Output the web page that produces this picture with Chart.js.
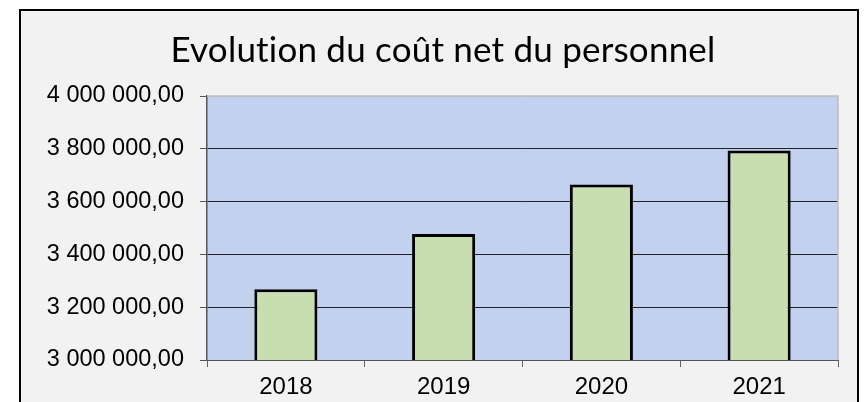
<!DOCTYPE html>
<html>
<head>
<meta charset="utf-8">
<script src="https://cdn.jsdelivr.net/npm/chart.js@4"></script>
<style>
  html, body { margin: 0; padding: 0; background: #fff; }
  canvas { display: block; }
</style>
</head>
<body>
<canvas id="costChart" width="868" height="402"></canvas>
<script>
// Data
const years = ["2018", "2019", "2020", "2021"];
const netCost = [3268000, 3477000, 3665000, 3794000];
const yMin = 3000000;
const yMax = 4000000;
const yStep = 200000;
const chartTitle = "Evolution du coût net du personnel";

// "3 200 000,00" style labels
const formatAmount = (v) => {
    const s = Math.round(v).toString().replace(/\B(?=(\d{3})+(?!\d))/g, " ");
    return s + ",00";
};

// Frame, background, plot area and title
const framePlugin = {
    id: "frame",
    beforeDraw(chart) {
        const c = chart.ctx;
        const a = chart.chartArea;
        c.save();
        c.fillStyle = "#ffffff";
        c.fillRect(0, 0, chart.width, chart.height);
        c.fillStyle = "#f2f2f2";
        c.fillRect(20, 10, 838, 400);
        c.strokeStyle = "#000";
        c.lineWidth = 2;
        c.strokeRect(20, 10, 838, 400);
        c.fillStyle = "#c1d1ee";
        c.fillRect(a.left, a.top, a.right - a.left, a.bottom - a.top);
        c.fillStyle = "#000";
        c.font = "35px Lato";
        if ("letterSpacing" in c) c.letterSpacing = "0.2px"; // no "ti" ligature
        c.textAlign = "center";
        c.textBaseline = "alphabetic";
        c.fillText(chartTitle, 443, 62);
        c.restore();
    },
    afterDraw(chart) {
        const c = chart.ctx;
        const a = chart.chartArea;
        c.save();
        c.strokeStyle = "#bfbfbf";
        c.lineWidth = 1.5;
        c.beginPath();
        c.moveTo(a.left, a.top);
        c.lineTo(a.right, a.top);
        c.lineTo(a.right, a.bottom);
        c.stroke();
        c.restore();
    }
};

const ctx = document.getElementById("costChart").getContext("2d");
const costChart = new Chart(ctx, {
    type: "bar",
    data: {
        labels: years,
        datasets: [{
            data: netCost,
            backgroundColor: "#c8ddb0",
            borderColor: "#000",
            borderWidth: 3,
            borderSkipped: false,
            barPercentage: 0.4,
            categoryPercentage: 1
        }]
    },
    options: {
        responsive: false,
        animation: false,
        layout: { padding: { left: 0, right: 30, top: 96, bottom: 0 } },
        plugins: {
            legend: { display: false },
            title: { display: false },
            tooltip: { enabled: false }
        },
        scales: {
            x: {
                afterFit: (s) => { s.height = 42; },
                grid: {
                    offset: true,
                    drawOnChartArea: false,
                    tickLength: 7,
                    tickColor: "#666"
                },
                border: { color: "#555", width: 1 },
                ticks: {
                    color: "#000",
                    padding: 6,
                    font: { family: "Liberation Sans", size: 24 }
                }
            },
            y: {
                min: yMin,
                max: yMax,
                afterFit: (s) => { s.width = 207; },
                grid: {
                    color: (c) => (c.tick && c.tick.value === yMax ? "#bfbfbf" : "#222"),
                    lineWidth: 1,
                    tickLength: 7,
                    tickColor: "#555"
                },
                border: { color: "#555", width: 1.5 },
                ticks: {
                    stepSize: yStep,
                    color: "#000",
                    padding: 16,
                    font: { family: "Liberation Sans", size: 23.5 },
                    callback: (v) => formatAmount(v)
                }
            }
        }
    },
    plugins: [framePlugin]
});
</script>
</body>
</html>
